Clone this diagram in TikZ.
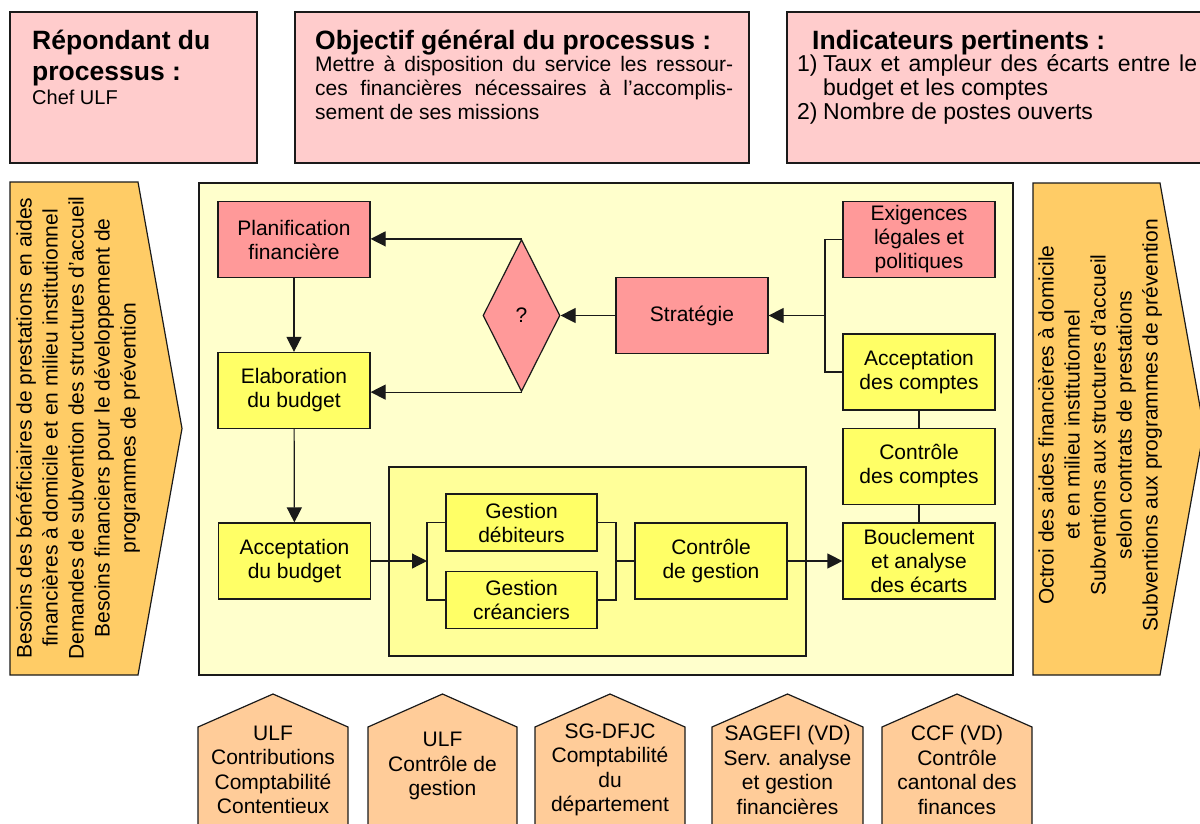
\documentclass[tikz,border=0pt]{standalone}
\usepackage{fontspec}
\setmainfont{Liberation Sans}
\usetikzlibrary{arrows.meta,shapes.geometric}

\definecolor{hdrpink}{HTML}{FFCCCC}
\definecolor{salmon}{HTML}{FF9999}
\definecolor{stepyellow}{HTML}{FFFF66}
\definecolor{zoneyellow}{HTML}{FFFF99}
\definecolor{paleyellow}{HTML}{FFFFCC}
\definecolor{flowgold}{HTML}{FFCC66}
\definecolor{actorpeach}{HTML}{FFCC99}
\definecolor{edgeline}{HTML}{1A1A1A}

\newcommand\stepfnt{\fontsize{21}{24}\selectfont}
\newcommand\actorfnt{\fontsize{21}{24.5}\selectfont}
\newcommand\flowfnt{\fontsize{21}{26}\selectfont}
\newcommand\boxheadfnt{\fontsize{26.5}{30.5}\selectfont\bfseries}

\begin{document}
\begin{tikzpicture}[x=1pt,y=-1pt,
  outline/.style={draw=edgeline, line width=1.2pt},
  infobox/.style={outline, fill=hdrpink, inner sep=0pt},
  zone/.style={outline, inner sep=0pt},
  stepbox/.style={outline, align=center, inner sep=2pt, font=\stepfnt,
                  minimum width=152pt, minimum height=76pt},
  redstep/.style={stepbox, fill=salmon},
  yelstep/.style={stepbox, fill=stepyellow},
  decision/.style={outline, fill=salmon, shape=diamond, inner sep=0pt,
                   minimum width=77pt, minimum height=152pt, font=\stepfnt},
  link/.style={draw=edgeline, line width=1.2pt},
  arr/.style={link, -{Triangle[length=15pt,width=15pt]}},
  flowshape/.style={outline, fill=flowgold},
  flowtext/.style={rotate=90, align=center, font=\flowfnt, inner sep=0pt},
  actor/.style={outline, fill=actorpeach},
  actortext/.style={align=center, font=\actorfnt, inner sep=0pt},
  headtext/.style={anchor=base west, inner sep=0pt, font=\boxheadfnt},
  bodytext/.style={anchor=base west, inner sep=0pt},
]
\useasboundingbox (0,0) rectangle (1200,823);
\clip (0,0) rectangle (1200,823);

% ---- header boxes ----
\node[infobox, minimum width=247pt, minimum height=151pt] (resp) at (133.5,87.5) {};
\node[infobox, minimum width=454pt, minimum height=151pt] (obj) at (522,87.5) {};
\node[infobox, minimum width=440pt, minimum height=151pt] (ind) at (1007,87.5) {};

\node[headtext] (resp-h1) at (32,49) {Répondant du};
\node[headtext] (resp-h2) at (32,80) {processus :};
\node[bodytext, font=\fontsize{20}{23}\selectfont] (resp-b) at (32,104) {Chef ULF};

\begin{scope}[every node/.append style={font=\fontsize{21}{24}\selectfont}]
\node[headtext] (obj-h) at (315,49) {Objectif général du processus :};
\node[bodytext] (obj-b1) at (315,71) {\makebox[418pt][s]{Mettre à disposition du service les ressour-}};
\node[bodytext] (obj-b2) at (315,95) {\makebox[418pt][s]{ces financières nécessaires à l’accomplis-}};
\node[bodytext] (obj-b3) at (315,119) {sement de ses missions};
\end{scope}

\begin{scope}[every node/.append style={font=\fontsize{23}{24}\selectfont}]
\node[headtext] (ind-h) at (812,49) {Indicateurs pertinents :};
\node[bodytext] (ind-n1) at (797,71) {1)};
\node[bodytext] (ind-l1) at (823,71) {\makebox[374pt][s]{Taux et ampleur des écarts entre le}};
\node[bodytext] (ind-l2) at (823,95) {budget et les comptes};
\node[bodytext] (ind-n2) at (797,119) {2)};
\node[bodytext] (ind-l3) at (823,119) {Nombre de postes ouverts};
\end{scope}

% ---- input and output flows ----
\draw[flowshape] (10,182) -- (138,182) -- (182,428.5) -- (138,675) -- (10,675) -- cycle;
\node[flowtext] (inputs) at (78,428) {Besoins des bénéficiaires de prestations en aides\\
  financières à domicile et en milieu institutionnel\\
  Demandes de subvention des structures d’accueil\\
  Besoins financiers pour le développement de\\
  programmes de prévention};

\draw[flowshape] (1033,183) -- (1160,183) -- (1204,429) -- (1160,675) -- (1033,675) -- cycle;
\node[flowtext] (outputs) at (1100,425) {Octroi des aides financières à domicile\\
  et en milieu institutionnel\\
  Subventions aux structures d’accueil\\
  selon contrats de prestations\\
  Subventions aux programmes de prévention};

% ---- process area ----
\node[zone, fill=paleyellow, minimum width=814pt, minimum height=492pt] (proc) at (606,429) {};
\node[zone, fill=zoneyellow, minimum width=417pt, minimum height=189pt] (mgmt) at (597.5,561.5) {};

\node[redstep] (plan) at (294,239.5) {Planification\\financière};
\node[yelstep] (elab) at (294,390.5) {Elaboration\\du budget};
\node[yelstep] (accb) at (294.5,561) {Acceptation\\du budget};
\node[decision] (q) at (521.5,315.5) {?};
\node[redstep] (strat) at (692,315.5) {Stratégie};
\node[redstep] (exig) at (919,239.5) {Exigences\\légales et\\politiques};
\node[yelstep] (accc) at (919,372) {Acceptation\\des comptes};
\node[yelstep] (ctrlc) at (919,466.5) {Contrôle\\des comptes};
\node[yelstep] (boucl) at (919,561) {Bouclement\\et analyse\\des écarts};
\node[yelstep] (cdg) at (711,561) {Contrôle\\de gestion};
\node[yelstep, minimum width=151pt, minimum height=57pt] (gdeb) at (521.5,522.5) {Gestion\\débiteurs};
\node[yelstep, minimum width=151pt, minimum height=57pt] (gcre) at (521.5,600) {Gestion\\créanciers};

% ---- connectors ----
\draw[arr] (plan) -- (elab);
\draw[arr] (elab) -- (accb);
\draw[arr] (q.north) -- (q.north -| plan.east);
\draw[arr] (q.south) -- (q.south -| elab.east);
\draw[arr] (strat) -- (q);

\coordinate (jr) at (825,315.5);
\draw[link] (exig.west) -- (exig.west -| jr) -- (accc.west -| jr) -- (accc.west);
\draw[arr] (jr) -- (strat.east);

\draw[link] (accc) -- (ctrlc);
\draw[link] (ctrlc) -- (boucl);

\coordinate (bl) at (427,561);
\draw[arr] (accb.east) -- (bl);
\draw[link] (gdeb.west) -- (gdeb.west -| bl) -- (gcre.west -| bl) -- (gcre.west);

\coordinate (br) at (616,561);
\draw[link] (gdeb.east) -- (gdeb.east -| br) -- (gcre.east -| br) -- (gcre.east);
\draw[link] (br) -- (cdg.west);
\draw[arr] (cdg) -- (boucl);

% ---- actors ----
\draw[actor] (198,840) -- (198,727) -- (273,694) -- (348,727) -- (348,840) -- cycle;
\node[actortext] (act1) at (273,770) {ULF\\Contributions\\Comptabilité\\Contentieux};
\draw[actor] (368,840) -- (368,727) -- (442.5,694) -- (517,727) -- (517,840) -- cycle;
\node[actortext] (act2) at (442.5,766) {ULF\\Contrôle de\\gestion};
\draw[actor] (535,840) -- (535,727) -- (610,694) -- (685,727) -- (685,840) -- cycle;
\node[actortext] (act3) at (610,770) {SG-DFJC\\Comptabilité\\du\\département};
\draw[actor] (712,840) -- (712,727) -- (787.5,694) -- (863,727) -- (863,840) -- cycle;
\node[actortext] (act4) at (787.5,770) {SAGEFI (VD)\\Serv. analyse\\et gestion\\financières};
\draw[actor] (882,840) -- (882,727) -- (957,694) -- (1032,727) -- (1032,840) -- cycle;
\node[actortext] (act5) at (957,770) {CCF (VD)\\Contrôle\\cantonal des\\finances};
\end{tikzpicture}
\end{document}
